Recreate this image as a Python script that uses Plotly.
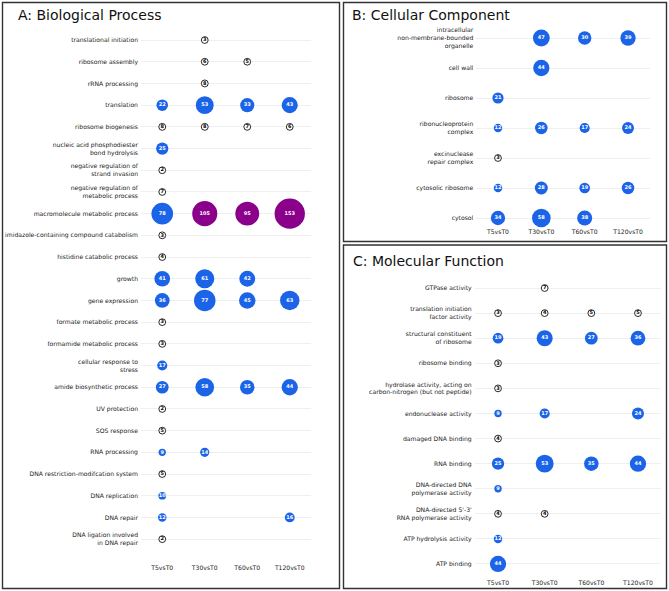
import math
import plotly.graph_objects as go

comparisons = ["T5vsT0", "T30vsT0", "T60vsT0", "T120vsT0"]

# ---------------- Panel A: Biological Process ----------------
terms_A = [
    "translational initiation",
    "ribosome assembly",
    "rRNA processing",
    "translation",
    "ribosome biogenesis",
    "nucleic acid phosphodiester<br>bond hydrolysis",
    "negative regulation of<br>strand invasion",
    "negative regulation of<br>metabolic process",
    "macromolecule metabolic process",
    "imidazole-containing compound catabolism",
    "histidine catabolic process",
    "growth",
    "gene expression",
    "formate metabolic process",
    "formamide metabolic process",
    "cellular response to<br>stress",
    "amide biosynthetic process",
    "UV protection",
    "SOS response",
    "RNA processing",
    "DNA restriction-modifcation system",
    "DNA replication",
    "DNA repair",
    "DNA ligation involved<br>in DNA repair",
]
A_T5 = [None, None, None, 22, 8, 25, 2, 7, 78, 3, 4, 41, 36, 3, 3, 17, 27, 2, 5, 9, 5, 10, 12, 2]
A_T30 = [3, 6, 8, 53, 8, None, None, None, 105, None, None, 61, 77, None, None, None, 58, None, None, 14, None, None, None, None]
A_T60 = [None, 5, None, 33, 7, None, None, None, 95, None, None, 42, 45, None, None, None, 35, None, None, None, None, None, None, None]
A_T120 = [None, None, None, 43, 6, None, None, None, 153, None, None, None, 63, None, None, None, 44, None, None, None, None, None, 16, None]

# ---------------- Panel B: Cellular Component ----------------
terms_B = [
    "intracellular<br>non-membrane-bounded<br>organelle",
    "cell wall",
    "ribosome",
    "ribonucleoprotein<br>complex",
    "excinuclease<br>repair complex",
    "cytosolic ribosome",
    "cytosol",
]
B_T5 = [None, None, 21, 12, 3, 12, 34]
B_T30 = [47, 44, None, 26, None, 28, 58]
B_T60 = [30, None, None, 17, None, 19, 38]
B_T120 = [39, None, None, 24, None, 26, None]

# ---------------- Panel C: Molecular Function ----------------
terms_C = [
    "GTPase activity",
    "translation initiation<br>factor activity",
    "structural constituent<br>of ribosome",
    "ribosome binding",
    "hydrolase activity, acting on<br>carbon-nitrogen (but not peptide)",
    "endonuclease activity",
    "damaged DNA binding",
    "RNA binding",
    "DNA-directed DNA<br>polymerase activity",
    "DNA-directed 5'-3'<br>RNA polymerase activity",
    "ATP hydrolysis activity",
    "ATP binding",
]
C_T5 = [None, 3, 19, 3, 3, 9, 4, 25, 9, 4, 12, 44]
C_T30 = [7, 4, 43, None, None, 17, None, 53, None, 4, None, None]
C_T60 = [None, 5, 27, None, None, None, None, 35, None, None, None, None]
C_T120 = [None, 5, 36, None, None, 24, None, 44, None, None, None, None]

titles = ["A: Biological Process", "B: Cellular Component", "C: Molecular Function"]

# ---------------- styling ----------------
W, H = 669, 591
FONT = "DejaVu Sans"
BLUE = "#1b64e8"
PURPLE = "#8b008b"
K = 2.45        # diameter per sqrt(count)
MIN_D = 6.8     # minimum bubble diameter
TICK_FONT = dict(family=FONT, size=6.1, color="#222222")


def px_x(p):
    return p / W


def px_y(p):
    return 1 - p / H


def bubbles(terms, series):
    xs, ys, vals = [], [], []
    for comp, vs in zip(comparisons, series):
        for term, v in zip(terms, vs):
            if v is None:
                continue
            xs.append(comp)
            ys.append(term)
            vals.append(v)
    sizes = [max(K * math.sqrt(v), MIN_D) for v in vals]
    fill = ["white" if v < 9 else (PURPLE if v >= 90 else BLUE) for v in vals]
    lcol = ["#111111" if v < 9 else "rgba(0,0,0,0)" for v in vals]
    lw = [0.9 if v < 9 else 0 for v in vals]
    tcol = ["#000000" if v < 9 else "white" for v in vals]
    text = ["<b>%d</b>" % v for v in vals]
    return xs, ys, sizes, fill, lcol, lw, tcol, text


panels = [
    dict(terms=terms_A, series=[A_T5, A_T30, A_T60, A_T120],
         xpx=(141, 311), ypx=(29.2, 550.0), pad_bottom=0.5, standoff=13),
    dict(terms=terms_B, series=[B_T5, B_T30, B_T60, B_T120],
         xpx=(476.3, 649.7), ypx=(23.0, 222.5), pad_bottom=0.15, standoff=4),
    dict(terms=terms_C, series=[C_T5, C_T30, C_T60, C_T120],
         xpx=(474.7, 661.3), ypx=(275.5, 571.5), pad_bottom=0.3, standoff=6),
]

fig = go.Figure()
layout_axes = {}
for i, p in enumerate(panels, start=1):
    xs, ys, sizes, fill, lcol, lw, tcol, text = bubbles(p["terms"], p["series"])
    fig.add_trace(go.Scatter(
        x=xs, y=ys, mode="markers+text",
        xaxis="x%d" % i, yaxis="y%d" % i,
        marker=dict(size=sizes, color=fill, opacity=1,
                    line=dict(color=lcol, width=lw)),
        text=text, textposition="middle center",
        textfont=dict(family=FONT, size=5.0, color=tcol),
        cliponaxis=False, showlegend=False, hoverinfo="skip",
    ))
    n = len(p["terms"])
    sfx = "" if i == 1 else str(i)
    layout_axes["xaxis" + sfx] = dict(
        domain=[px_x(p["xpx"][0]), px_x(p["xpx"][1])],
        anchor="y%d" % i,
        type="category", categoryorder="array", categoryarray=comparisons,
        range=[-0.5, 3.5], showgrid=False, zeroline=False, showline=False,
        ticks="", tickfont=TICK_FONT, ticklabelstandoff=p["standoff"],
        fixedrange=True,
    )
    layout_axes["yaxis" + sfx] = dict(
        domain=[px_y(p["ypx"][1]), px_y(p["ypx"][0])],
        anchor="x%d" % i,
        type="category", categoryorder="array", categoryarray=p["terms"],
        range=[n - 1 + p["pad_bottom"], -0.5],
        showgrid=True, gridcolor="#efefef", gridwidth=1,
        zeroline=False, showline=False, ticks="",
        tickfont=TICK_FONT, ticklabelstandoff=2, fixedrange=True,
    )

# panel frames
frames = [(2.5, 2.5, 339.5, 588.5), (343.5, 2.5, 666.5, 241.5), (343.5, 245.0, 666.5, 588.5)]
shapes = [
    dict(type="rect", xref="paper", yref="paper",
         x0=px_x(x0), x1=px_x(x1), y0=px_y(y1), y1=px_y(y0),
         line=dict(color="#333333", width=1.4), fillcolor="rgba(0,0,0,0)", layer="below")
    for (x0, y0, x1, y1) in frames
]

title_pos = [(16, 15), (350, 15), (351, 261)]
annotations = [
    dict(text=t, xref="paper", yref="paper", x=px_x(x), y=px_y(y),
         xanchor="left", yanchor="middle", showarrow=False,
         font=dict(family=FONT, size=14, color="#111111"))
    for t, (x, y) in zip(titles, title_pos)
]

fig.update_layout(
    width=W, height=H,
    margin=dict(l=0, r=0, t=0, b=0),
    paper_bgcolor="white", plot_bgcolor="white",
    font=dict(family=FONT),
    shapes=shapes, annotations=annotations,
    showlegend=False,
    **layout_axes,
)

fig.write_html(
    "out.html",
    config={"displayModeBar": False, "staticPlot": True},
    post_script="document.body.style.margin='0px';document.body.style.padding='0px';document.body.style.overflow='hidden';",
)
